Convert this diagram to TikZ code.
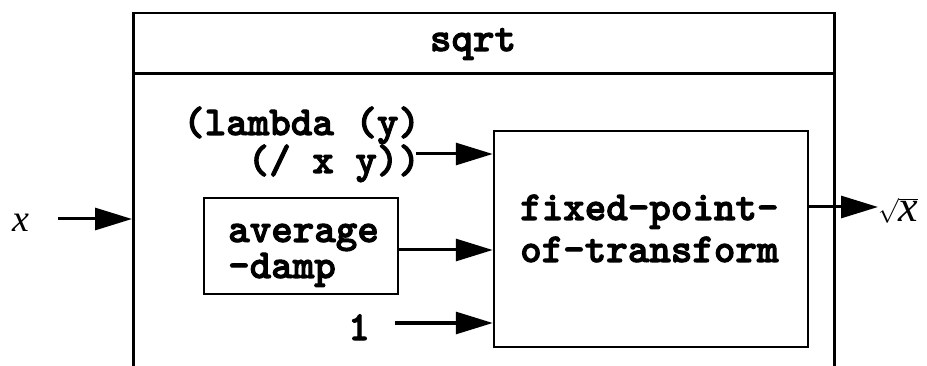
\documentclass[tikz,border=0pt]{standalone}
\usepackage{fontspec}
\setmainfont{Liberation Serif}
\newfontfamily\codefont[FakeBold=2.5]{lmmonolt10-bold.otf}
\usetikzlibrary{arrows.meta}
\begin{document}
\begin{tikzpicture}[x=1pt,y=-1pt,
  code/.style={font=\fontsize{41}{38}\selectfont\codefont, inner sep=0pt, anchor=base west},
  mathlbl/.style={font=\fontsize{38}{40}\selectfont, inner sep=0pt, anchor=base west},
  box/.style={draw, line width=2.5pt, inner sep=0pt},
  flow/.style={line width=3pt, -{Triangle[length=37pt,width=22pt]}}]
\clip (0,0) rectangle (927,366);
\node[box, anchor=north west, minimum width=701pt, minimum height=420pt] (outer) at (132,12) {};
\draw[line width=3pt] (outer.west |- 0,74) -- (outer.east |- 0,74);
\node[code, anchor=base] (title) at (473,51) {sqrt};
\node[box, minimum width=314pt, minimum height=216pt] (fp) at (651,239) {};
\node[code] (fptext) at (520,220) {\vtop{\baselineskip=42pt\hbox{fixed-point-}\hbox{of-transform}}};
\node[box, minimum width=194pt, minimum height=96pt] (avg) at (301,246) {};
\node[code] (avgtext) at (228,242) {\vtop{\baselineskip=36pt\hbox{average}\hbox{-damp}}};
\node[code] (lam) at (183,135) {\vtop{\baselineskip=38pt\hbox{(lambda (y)}\hbox{\hspace*{1.575em}(/ x y))}}};
\node[code] (one) at (348,340) {1};
\node[mathlbl] (xin) at (12,232) {\itshape x};
\node[mathlbl, font=\fontsize{44}{46}\selectfont] (sq) at (878,222) {$\sqrt{\mbox{\itshape x}}$};
\coordinate (xstart) at (58,219);
\coordinate (lamout) at (416,154);
\coordinate (onestart) at (395,323);
\draw[flow] (xstart) -- (xstart -| outer.west);
\draw[flow] (lamout) -- (lamout -| fp.west);
\draw[flow] (avg.east |- 0,250) -- (fp.west |- 0,250);
\draw[flow] (onestart) -- (onestart -| fp.west);
\draw[flow] (fp.east |- 0,207) -- (sq.west |- 0,207);
\end{tikzpicture}
\end{document}
